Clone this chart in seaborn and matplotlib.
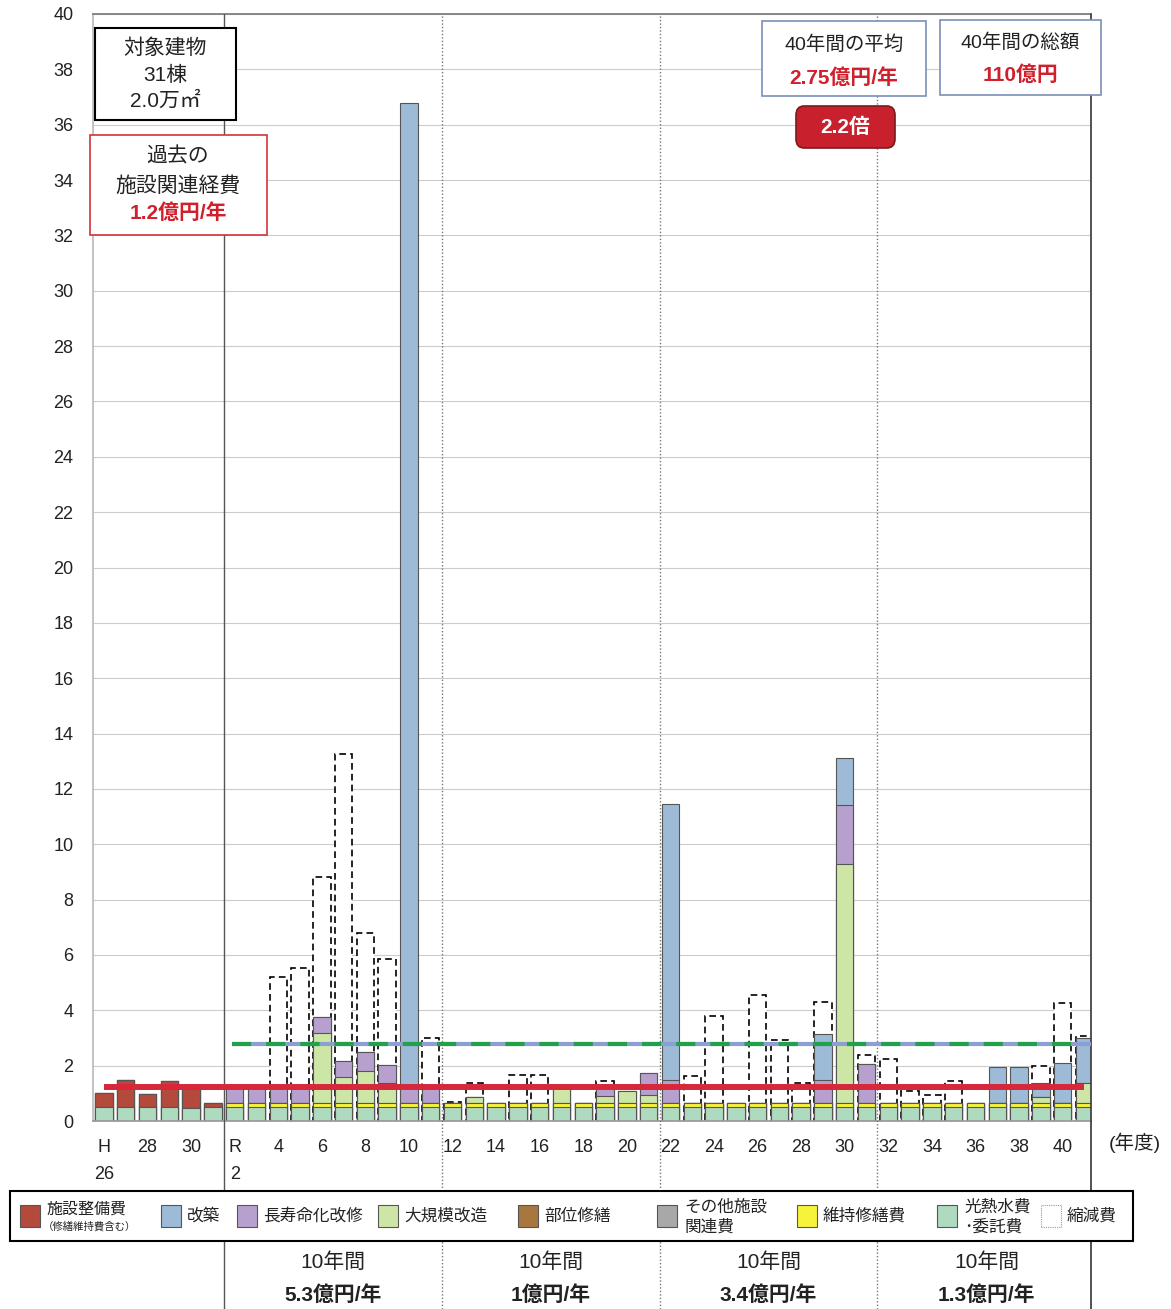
import numpy as np
import matplotlib
matplotlib.use('Agg')
import matplotlib.pyplot as plt
from matplotlib.patches import Rectangle, FancyBboxPatch
import seaborn as sns

# ---- data (億円) ----
years = ['H26', 'H27', 'H28', 'H29', 'H30', 'R1'] + ['R%d' % i for i in range(2, 42)]

# 光熱水費・委託費
utility = [0.52, 0.52, 0.52, 0.52, 0.48, 0.50,
           0.52, 0.52, 0.52, 0.52, 0.52, 0.52, 0.52, 0.52, 0.52, 0.52,
           0.52, 0.52, 0.52, 0.52, 0.52, 0.52, 0.52, 0.52, 0.52, 0.52,
           0.52, 0.52, 0.52, 0.52, 0.52, 0.52, 0.52, 0.52, 0.52, 0.52,
           0.52, 0.52, 0.52, 0.52, 0.52, 0.52, 0.52, 0.52, 0.52, 0.52]
# 維持修繕費
maint = [0, 0, 0, 0, 0, 0,
         0.12, 0.12, 0.12, 0.12, 0.12, 0.12, 0.12, 0.12, 0.12, 0.12,
         0.12, 0.12, 0.12, 0.12, 0.12, 0.12, 0.12, 0.12, 0.12, 0.12,
         0.12, 0.12, 0.12, 0.12, 0.12, 0.12, 0.12, 0.12, 0.12, 0.12,
         0.12, 0.12, 0.12, 0.12, 0.12, 0.12, 0.12, 0.12, 0.12, 0.12]
# 施設整備費（修繕維持費含む）
facility = [0.50, 0.97, 0.45, 0.93, 0.70, 0.15,
            0, 0, 0, 0, 0, 0, 0, 0, 0, 0,
            0, 0, 0, 0, 0, 0, 0, 0, 0, 0,
            0, 0, 0, 0, 0, 0, 0, 0, 0, 0,
            0, 0, 0, 0, 0, 0, 0, 0, 0, 0]
# 大規模改造
large_repair = [0, 0, 0, 0, 0, 0,
                0, 0, 0, 0, 2.53, 0.94, 1.16, 0.72, 0, 0,
                0, 0.24, 0, 0, 0, 0.54, 0, 0.26, 0.46, 0.30,
                0, 0, 0, 0, 0, 0, 0, 0, 8.64, 0,
                0, 0, 0, 0, 0, 0, 0, 0.24, 0, 0.72]
# 長寿命化改修
life_ext = [0, 0, 0, 0, 0, 0,
            0.58, 0.58, 0.58, 0.58, 0.60, 0.60, 0.68, 0.66, 0.60, 0.56,
            0, 0, 0, 0, 0, 0, 0, 0.28, 0, 0.81,
            0.84, 0, 0, 0, 0, 0, 0, 0.84, 2.14, 1.42,
            0, 0, 0, 0, 0, 0, 0, 0, 0, 0]
# 改築
rebuild = [0, 0, 0, 0, 0, 0,
           0, 0, 0, 0, 0, 0, 0, 0, 35.56, 0,
           0, 0, 0, 0, 0, 0, 0, 0, 0, 0,
           9.97, 0, 0, 0, 0, 0, 0, 1.66, 1.68, 0,
           0, 0, 0, 0, 0, 1.32, 1.32, 0.51, 1.44, 1.63]
# 縮減費
reduction = [0, 0, 0, 0, 0, 0,
             0, 0, 3.97, 4.30, 5.03, 11.09, 4.32, 3.84, 0, 1.80,
             0.06, 0.50, 0, 1.02, 1.02, 0, 0, 0.28, 0, 0,
             0, 0.99, 3.16, 0, 3.91, 2.29, 0.72, 1.15, 0, 0.32,
             1.61, 0.46, 0.31, 0.81, 0, 0, 0, 0.60, 2.17, 0.08]

past_avg = 1.22     # 過去の施設関連経費
avg_40 = 2.78       # 40年間の平均
decade_labels = ['5.3億円/年', '1億円/年', '3.4億円/年', '1.3億円/年']

tick_pos = list(range(0, 45, 2))
tick_labels = ['H\n26', '28', '30', 'R\n2'] + [str(i) for i in range(4, 41, 2)]

# ---- style ----
sns.set_theme(style='white')
plt.rcParams['font.family'] = ['Liberation Sans', 'Noto Sans CJK JP']

c_fac = '#B34A3C'
c_reb = '#9DBAD7'
c_life = '#B7A0CE'
c_large = '#CDE6A6'
c_part = '#A8773F'
c_other = '#A8A8A8'
c_maint = '#F6F33A'
c_util = '#AEDABF'

W, H = 1171, 1309
fig = plt.figure(figsize=(W / 100, H / 100), dpi=100)
ax = fig.add_axes([93 / W, 1 - 1121 / H, 998 / W, 1107 / H])


def fx(px):
    return px / W


def fy(py):
    return 1 - py / H


# stacked bars: draw cumulative totals from the top layer downwards
layers = [utility, maint, facility, large_repair, life_ext, rebuild, reduction]
colors = [c_util, c_maint, c_fac, c_large, c_life, c_reb, 'white']
cum = np.cumsum(np.array(layers, dtype=float), axis=0)

for k in range(len(layers) - 1, -1, -1):
    dashed = k == len(layers) - 1
    heights = cum[k]
    if dashed:
        # only bars that actually carry a reduction get the dashed outline
        heights = np.where(np.array(reduction) > 0, cum[k], 0)
    sns.barplot(x=years, y=heights, order=years, color=colors[k],
                saturation=1, errorbar=None, width=0.8, ax=ax,
                edgecolor='black' if dashed else '#555555',
                linewidth=1.2 if dashed else 0.8,
                linestyle=(0, (4, 2.5)) if dashed else '-', zorder=2)

ax.set_xlim(-0.5, 45.3)
ax.set_ylim(0, 40)
ax.set_yticks(range(0, 41, 2))
ax.set_xticks(tick_pos)
ax.set_xticklabels(tick_labels, fontsize=13, color='#222222', linespacing=1.75)
ax.set_xticks(np.arange(0.5, 45, 1), minor=True)
ax.tick_params(axis='x', which='major', length=0, pad=13)
ax.tick_params(axis='x', which='minor', length=4, color='#AAAAAA', width=0.8)
ax.tick_params(axis='y', length=0, labelsize=13, labelcolor='#222222', pad=14)
ax.set_xlabel('')
ax.set_ylabel('')
for lab in ax.get_xticklabels():
    lab.set_verticalalignment('top')

ax.grid(axis='y', color='#CCCCCC', lw=0.8)
ax.set_axisbelow(True)
ax.spines['left'].set_color('#BBBBBB')
ax.spines['bottom'].set_color('#999999')
ax.spines['top'].set_color('#777777')
ax.spines['top'].set_linewidth(1.2)
ax.spines['right'].set_visible(False)

# average lines
ax.plot([0, len(years) - 1], [past_avg, past_avg], color='#D6283A', lw=4.3,
        solid_capstyle='butt', zorder=6)
ax.plot([5.9, 45.3], [avg_40, avg_40], color='#8C9FD3', lw=3,
        solid_capstyle='butt', zorder=6)
gl, = ax.plot([5.9, 45.0], [avg_40, avg_40], color='#22A04A', lw=3, zorder=7)
gl.set_dashes([4.6, 3.6])

# period separators
ext = (1309 - 1121) / 1107
ax.axvline(5.5, ymin=-ext, ymax=1, color='#555555', lw=1, clip_on=False, zorder=4)
ax.axvline(45.3, ymin=-ext, ymax=1, color='#444444', lw=1.3, clip_on=False, zorder=4)
for xv in (15.5, 25.5, 35.5):
    ax.axvline(xv, ymin=-ext, ymax=1, color='#777777', lw=1,
               linestyle=(0, (1, 1.5)), clip_on=False, zorder=4)


# ---- boxes ----
def box(x0, y0, x1, y1, ec, lw=1.2, fc='white'):
    r = Rectangle((fx(x0), fy(y1)), fx(x1) - fx(x0), (y1 - y0) / H,
                  transform=fig.transFigure, fc=fc, ec=ec, lw=lw, zorder=10)
    fig.add_artist(r)


def txt(x, y, s, size=15, color='#222222', weight='normal', ha='center'):
    fig.text(fx(x), fy(y), s, ha=ha, va='center', fontsize=size,
             color=color, fontweight=weight, zorder=11)


txt(1135, 1143, '(年度)', size=14)

red_txt = '#D0202C'

box(95, 28, 236, 120, 'black', lw=1.5)
txt(165, 48, '対象建物')
txt(165, 75, '31棟')
txt(165, 101, '2.0万㎡')

box(90, 135, 267, 235, '#D03535', lw=1.2)
txt(178, 157, '過去の')
txt(178, 186, '施設関連経費')
txt(178, 213, '1.2億円/年', color=red_txt, weight='bold')

box(762, 21, 926, 96, '#7B8FB8', lw=1.2)
txt(844, 45, '40年間の平均', size=14)
txt(844, 78, '2.75億円/年', size=15, color=red_txt, weight='bold')

box(940, 20, 1101, 95, '#7B8FB8', lw=1.2)
txt(1020, 43, '40年間の総額', size=14)
txt(1020, 75, '110億円', size=15, color=red_txt, weight='bold')

rb = FancyBboxPatch((fx(796), fy(148)), fx(895) - fx(796), 42 / H,
                    boxstyle='round,pad=0,rounding_size=0.007',
                    transform=fig.transFigure, fc='#C8202C', ec='#7A1A1A',
                    lw=1.2, zorder=10)
fig.add_artist(rb)
txt(845, 127, '2.2倍', size=15, color='white', weight='bold')

# ---- legend ----
box(10, 1191, 1133, 1241, 'black', lw=1.5)
leg_items = [
    (20, c_fac, '施設整備費', None),
    (161, c_reb, '改築', None),
    (237, c_life, '長寿命化改修', None),
    (378, c_large, '大規模改造', None),
    (518, c_part, '部位修繕', None),
    (657, c_other, 'その他施設', '関連費'),
    (797, c_maint, '維持修繕費', None),
    (937, c_util, '光熱水費', '･委託費'),
    (1041, 'white', '縮減費', None),
]
for x0, col, l1, l2 in leg_items:
    if col == 'white':
        r = Rectangle((fx(x0), fy(1227)), 20 / W, 22 / H, transform=fig.transFigure,
                      fc='white', ec='#999999', lw=0.8, linestyle=(0, (1, 1)), zorder=12)
    else:
        r = Rectangle((fx(x0), fy(1227)), 20 / W, 22 / H, transform=fig.transFigure,
                      fc=col, ec='#555555', lw=0.8, zorder=12)
    fig.add_artist(r)
    if x0 == 20:
        txt(x0 + 26, 1209, l1, size=11.5, ha='left')
        txt(x0 + 23, 1226, '（修繕維持費含む）', size=7.5, ha='left')
    elif l2 is None:
        txt(x0 + 26, 1216, l1, size=12, ha='left')
    else:
        txt(x0 + 27, 1207, l1, size=12, ha='left')
        txt(x0 + 27, 1227, l2, size=12, ha='left')

# ---- decade summaries ----
for i, lab in enumerate(decade_labels):
    xc = 6 + 10 * i + 4.5
    xp = 104 + xc * 998 / 45.8
    txt(xp, 1262, '10年間', size=15)
    txt(xp, 1295, lab, size=15, weight='bold')

fig.savefig('out.png', dpi=100)
